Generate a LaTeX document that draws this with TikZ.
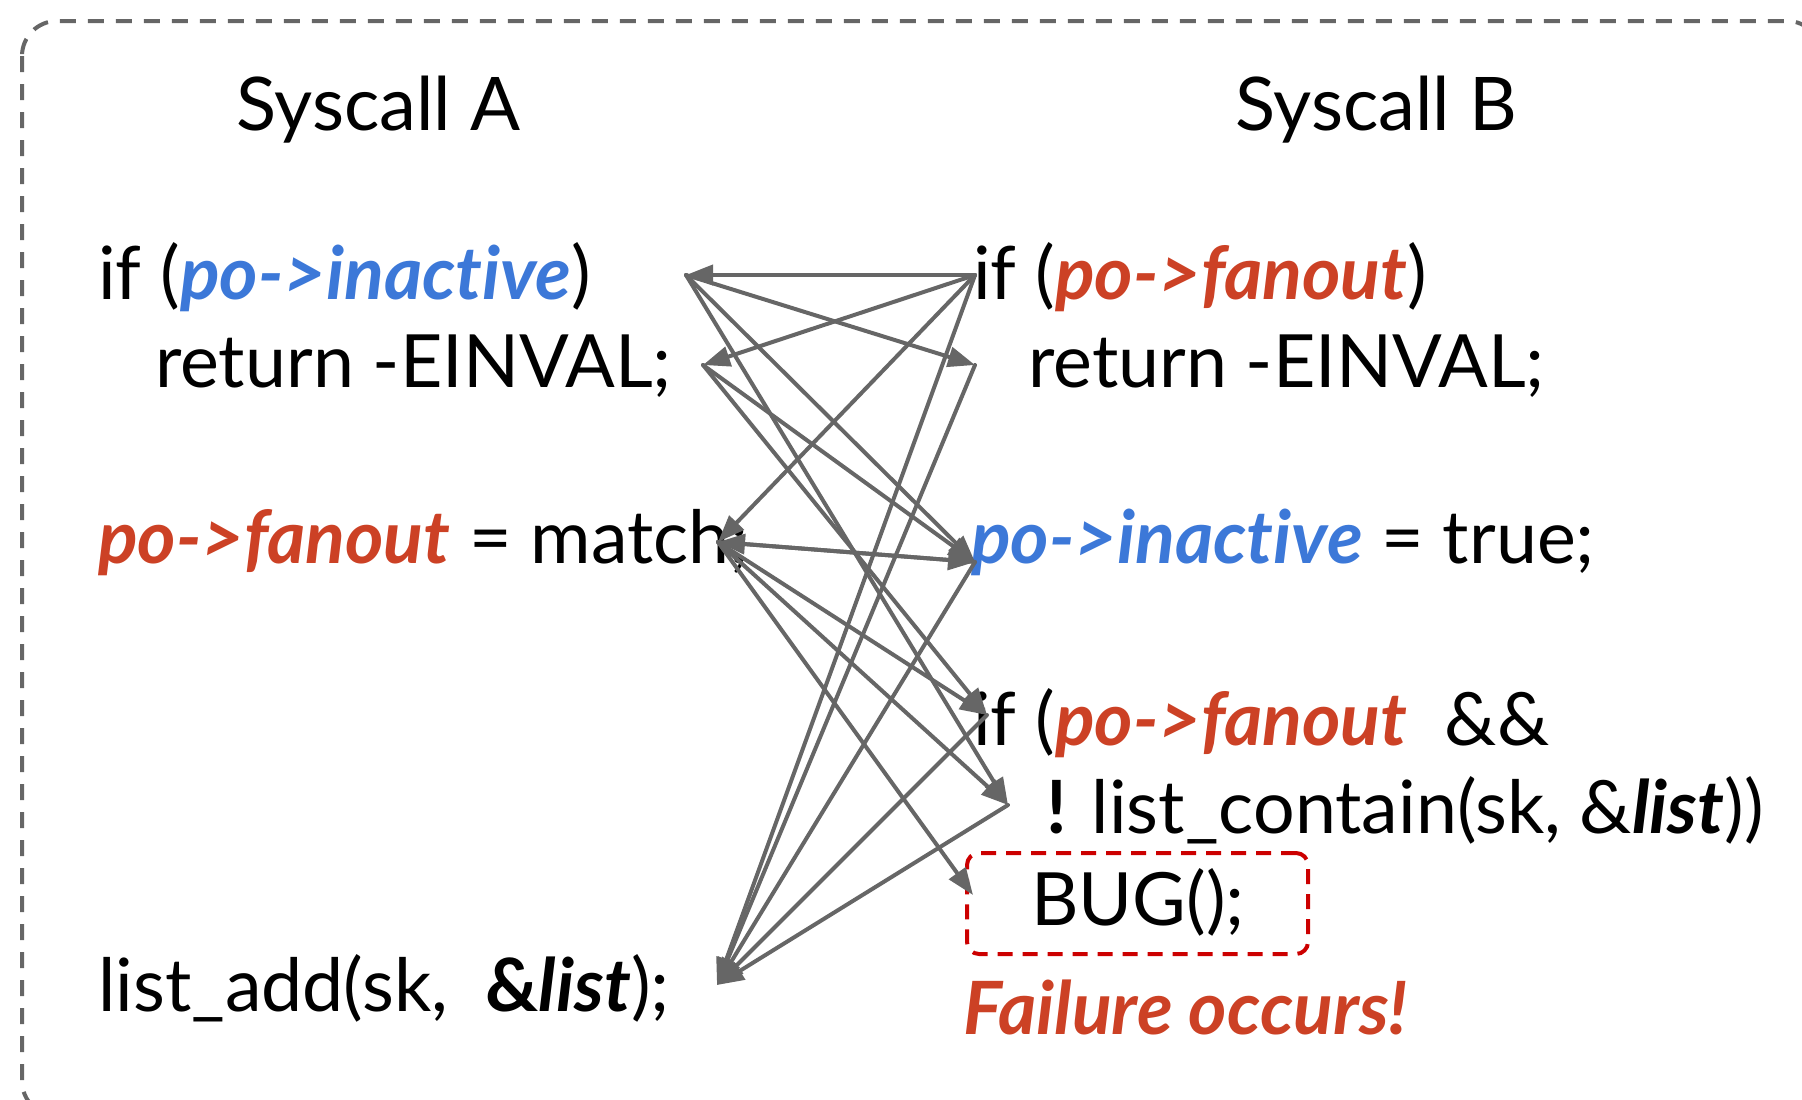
\documentclass[tikz,border=0pt]{standalone}
\usepackage{fontspec}
\setmainfont{Lato}[Ligatures={NoCommon}]
\usetikzlibrary{arrows.meta}

\definecolor{inkgray}{HTML}{666666}
\definecolor{varblue}{HTML}{3C78D8}
\definecolor{varred}{HTML}{CC4125}
\definecolor{bugred}{HTML}{CC0000}

% shared fields, set bold italic
\newcommand\fieldblue[1]{\textcolor{varblue}{\textbf{\textit{#1}}}}
\newcommand\fieldred[1]{\textcolor{varred}{\textbf{\textit{#1}}}}

\begin{document}
\begin{tikzpicture}[x=1pt,y=-1pt,
  codeline/.style={anchor=base west, inner sep=0pt, font=\fontsize{73.5}{88}\selectfont},
  heading/.style={anchor=base west, inner sep=0pt, font=\fontsize{74}{88}\selectfont},
  flow/.style={draw=inkgray, line width=4pt, line cap=round,
    -{Triangle[length=27pt,width=20pt]}},
  outerframe/.style={draw=inkgray, line width=4pt, dash pattern=on 16pt off 12pt,
    rounded corners=35pt},
  bugframe/.style={draw=bugred, line width=4pt, dash pattern=on 15pt off 10pt,
    rounded corners=12pt, inner sep=0pt}]

\clip (0,0) rectangle (1802,1100);
\useasboundingbox (0,0) rectangle (1802,1100);

% dashed outline around both threads
\draw[outerframe] (22,21) rectangle (1822,1116);

% column headings
\node[heading] (ta) at (236,130) {Syscall A};
\node[heading] (tb) at (1235,130) {Syscall B};

% thread A
\node[codeline] (la1) at (98,299)  {if (\fieldblue{po->inactive})};
\node[codeline] (la2) at (155,387) {return -EINVAL;};
\node[codeline] (la3) at (98,563)  {\fieldred{po->fanout} = match;};
\node[codeline] (la4) at (98,1011) {list\_add(sk, \ \textbf{\&\textit{list}});};

% thread B
\node[codeline] (lb1) at (973,299)  {if (\fieldred{po->fanout})};
\node[codeline] (lb2) at (1028,387) {return -EINVAL;};
\node[codeline] (lb3) at (971,563)  {\fieldblue{po->inactive} = true;};
\node[codeline] (lb4) at (973,745)  {if (\fieldred{po->fanout}\ \ \&\&};
\node[codeline] (lb5) at (1046,833) {\textbf{!} list\_contain(sk, \&\textbf{\textit{list}}))};
\node[codeline] (lb6) at (1031,925) {BUG();};

% failing statement
\node[bugframe, minimum width=341pt, minimum height=101pt] (bugbox) at (1137.5,903.5) {};
\node[codeline] (fail) at (963,1034) {\fieldred{Failure occurs!}};

% ordering points beside each statement
\coordinate (pa1) at (686,275);
\coordinate (pa2) at (703,365);
\coordinate (pa3) at (718,542);
\coordinate (pa4) at (717,985);
\coordinate (pb1) at (975,275);
\coordinate (pb2) at (975,365);
\coordinate (pb3) at (975,562);
\coordinate (pb4) at (987,715);
\coordinate (pb5) at (1008,805);
\coordinate (pb6) at (973,895);

% possible orderings between the two threads
\draw[flow] (pb1) -- (pa1);
\draw[flow] (pa1) -- (pb2);
\draw[flow] (pb1) -- (pa2);
\draw[flow] (pb1) -- (pa3);
\draw[flow] (pa1) -- (pb3);
\draw[flow] (pa2) -- (pb3);
\draw[flow] (pa3) -- (pb3);
\draw[flow] (pb3) -- (pa3);
\draw[flow] (pa2) -- (pb4);
\draw[flow] (pa3) -- (pb4);
\draw[flow] (pa1) -- (pb5);
\draw[flow] (pa3) -- (pb5);
\draw[flow] (pa3) -- (pb6);
\draw[flow] (pb1) -- (pa4);
\draw[flow] (pb2) -- (pa4);
\draw[flow] (pb3) -- (pa4);
\draw[flow] (pb4) -- (pa4);
\draw[flow] (pb5) -- (pa4);
\end{tikzpicture}
\end{document}
